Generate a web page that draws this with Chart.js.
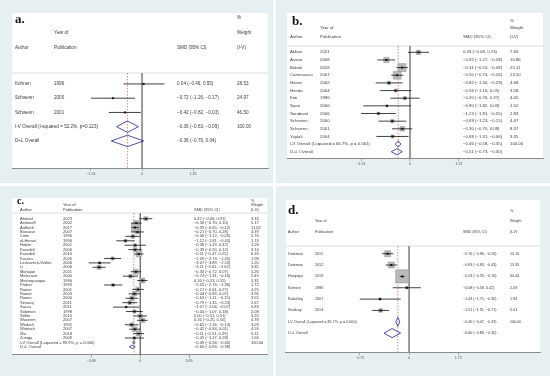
<!DOCTYPE html>
<html>
<head>
<meta charset="utf-8">
<script src="https://cdn.jsdelivr.net/npm/chart.js@4.4.1/dist/chart.umd.min.js"></script>
<style>
  body { margin: 0; background: #fff; width: 550px; height: 376px; position: relative; overflow: hidden; }
  .panel { position: absolute; background: #e6f0f0; }
  .panel canvas { position: absolute; left: 0; top: 0; }
</style>
</head>
<body>
<div class="panel" style="left:0;top:0;width:273px;height:183px"><canvas id="chartA" width="273" height="183"></canvas></div>
<div class="panel" style="left:276px;top:0;width:274px;height:183px"><canvas id="chartB" width="274" height="183"></canvas></div>
<div class="panel" style="left:0;top:186px;width:273px;height:190px"><canvas id="chartC" width="273" height="190"></canvas></div>
<div class="panel" style="left:276px;top:186px;width:274px;height:190px"><canvas id="chartD" width="274" height="190"></canvas></div>
<script>
// ---- a. ----
const aAuthors = ["Kohnen", "Schwenn", "Schwenn"];
const aYears = ["1996", "2000", "2001"];
const aSmd = [0.04, -0.72, -0.42];
const aLow = [-0.46, -1.26, -0.82];
const aHigh = [0.55, -0.17, -0.03];
const aWeight = [28.53, 24.97, 46.50];
const aOverallLabels = ["I-V Overall (I-squared = 52.2%, p=0.123)", "D+L Overall"];
const aOverallSmd = [-0.36, -0.36];
const aOverallLow = [-0.63, -0.76];
const aOverallHigh = [-0.09, 0.04];
const aTicks = [-1.26, 0, 1.26];

// ---- b. ----
const bAuthors = ["Akbari", "Asano", "Babak", "Camesasca", "Holzer", "Honda", "Kim", "Saari", "Sandoval", "Schwenn", "Schwenn", "Yaylali"];
const bYears = ["2021", "2008", "2018", "2007", "2002", "2004", "1996", "2006", "2006", "2000", "2001", "2004"];
const bSmd = [0.33, -0.92, -0.31, -0.50, -0.82, -0.56, -0.20, -0.90, -1.23, -0.69, -0.30, -0.68];
const bLow = [-0.08, -1.27, -0.53, -0.73, -1.34, -1.16, -0.76, -1.82, -1.91, -1.23, -0.70, -1.31];
const bHigh = [0.74, -0.58, -0.08, -0.26, -0.29, 0.05, 0.37, 0.03, -0.55, -0.15, 0.09, -0.06];
const bWeight = [7.69, 10.86, 25.11, 23.50, 4.68, 3.58, 4.05, 1.52, 2.83, 4.47, 8.37, 3.35];
const bOverallLabels = ["I-V Overall (I-squared = 66.7%, p = 0.001)", "D+L Overall"];
const bOverallSmd = [-0.46, -0.51];
const bOverallLow = [-0.58, -0.73];
const bOverallHigh = [-0.35, -0.30];
const bTicks = [-1.91, 0, 1.91];

// ---- c. ----
const cAuthors = ["Ahmad", "Arshinoff", "Auffarth", "Borazan", "Cetin", "el-Harazi", "Holzer", "Karadeli", "Karadeli", "Kocera",
  "Levkovitch-Verbin", "Li", "Mahajan", "Malecaze", "Mastropasqua", "Probst", "Rainer", "Rainer", "Rainer", "Simaroj",
  "Sacca", "Solomon", "Stifter", "Waseem", "Wedrich", "Wirtitsch", "Wu", "Zuniga"];
const cYears = ["2023", "2002", "2017", "2007", "1996", "1996", "2001", "2006", "2010", "2020",
  "2006", "2006", "2021", "2000", "1996", "1993", "2001", "2003", "2000", "2011",
  "2011", "1998", "2010", "2007", "1992", "2007", "2018", "2009"];
const cSmd = [0.42, -0.30, -0.39, -0.21, -0.56, -1.12, -0.38, -0.39, -0.11, -2.09,
  -3.07, -3.11, -0.33, -0.74, 0.16, -2.05, -0.17, -0.44, -0.63, -0.79,
  -1.07, -0.44, 0.00, 0.16, -0.65, -0.42, -0.11, -0.45];
const cLow = [-0.06, -0.70, -0.65, -0.70, -1.12, -1.81, -1.19, -0.90, -0.47, -2.73,
  -3.89, -3.61, -0.72, -1.31, -0.23, -2.74, -0.61, -0.89, -1.11, -1.35,
  -2.06, -1.07, -0.51, -0.25, -1.16, -0.84, -0.51, -1.17];
const cHigh = [0.91, 0.10, -0.12, 0.28, -0.03, -0.43, 0.42, 0.12, 0.25, -1.45,
  -2.24, -2.62, 0.07, -0.16, 0.55, -1.36, 0.27, 0.02, -0.15, -0.23,
  -0.07, 0.18, 0.51, 0.56, -0.14, 0.01, 0.29, 0.28];
const cWeight = [3.34, 5.17, 11.62, 3.39, 2.76, 1.74, 1.26, 3.14, 6.39, 1.98,
  1.20, 3.35, 5.26, 2.49, 5.31, 1.72, 4.25, 3.96, 3.55, 2.67,
  0.83, 2.08, 3.20, 4.78, 3.03, 4.59, 5.11, 1.56];
const cOverallLabels = ["I-V Overall (I-squared = 89.9%, p = 0.000)", "D+L Overall"];
const cOverallSmd = [-0.49, -0.60];
const cOverallLow = [-0.58, -0.83];
const cOverallHigh = [-0.40, -0.38];
const cTicks = [-3.69, 0, 3.69];

// ---- d. ----
const dAuthors = ["Dateman", "Dateman", "Haripriya", "Kohnen", "Rakofsky", "Studeny"];
const dYears = ["2011", "2012", "2019", "1996", "2007", "2014"];
const dSmd = [-0.76, -0.63, -0.24, -0.08, -1.03, -1.01];
const dLow = [-0.96, -0.83, -0.33, -0.58, -1.75, -1.31];
const dHigh = [-0.56, -0.43, -0.16, 0.42, -0.30, -0.71];
const dWeight = [13.16, 13.35, 64.44, 2.09, 1.94, 5.03];
const dOverallLabels = ["I-V Overall (I-squared = 85.7%, p = 0.000)", "D+L Overall"];
const dOverallSmd = [-0.40, -0.60];
const dOverallLow = [-0.47, -0.89];
const dOverallHigh = [-0.33, -0.30];
const dTicks = [-1.75, 0, 1.75];

const SANS = '"Liberation Sans", Arial, sans-serif';

function fmt(v) {
  return (v < 0 ? "\u2212" : "") + Math.abs(v).toFixed(2);
}
function ciText(e, l, h) {
  return fmt(e) + " (" + fmt(l) + ", " + fmt(h) + ")";
}

// draws the white plot region, reference lines and the text columns
const forestText = {
  id: "forestText",
  beforeDraw(chart, args, o) {
    const { ctx, chartArea: a } = chart;
    ctx.save();
    ctx.fillStyle = "#fff";
    ctx.fillRect(a.left, a.top, a.right - a.left, a.bottom - a.top);
    ctx.restore();
  },
  beforeDatasetsDraw(chart, args, o) {
    const { ctx, chartArea: a, scales } = chart;
    ctx.save();
    ctx.strokeStyle = "#d6d6d6";
    ctx.lineWidth = 0.8;
    ctx.beginPath();
    ctx.moveTo(a.left, o.sep);
    ctx.lineTo(a.right, o.sep);
    ctx.stroke();
    const x0 = scales.x.getPixelForValue(0);
    ctx.strokeStyle = "#5a5a5a";
    ctx.lineWidth = 1.2;
    ctx.beginPath();
    ctx.moveTo(x0, o.sep);
    ctx.lineTo(x0, a.bottom);
    ctx.stroke();
    const xr = scales.x.getPixelForValue(o.ref);
    ctx.strokeStyle = "#d9534f";
    ctx.lineWidth = 0.7;
    ctx.setLineDash([1.5, 1.5]);
    ctx.beginPath();
    ctx.moveTo(xr, o.sep);
    ctx.lineTo(xr, a.bottom);
    ctx.stroke();
    ctx.restore();
  },
  afterDraw(chart, args, o) {
    const { ctx, scales } = chart;
    const ys = scales.y;
    const c = o.cols;
    ctx.save();
    ctx.fillStyle = "#3a3a3a";
    ctx.textBaseline = "middle";
    ctx.font = o.font + "px " + SANS;
    o.authors.forEach((name, i) => {
      const y = ys.getPixelForValue(i);
      ctx.fillText(name, c[0], y);
      ctx.fillText(o.years[i], c[1], y);
      ctx.fillText(ciText(o.smd[i], o.low[i], o.high[i]), c[2], y);
      ctx.fillText(o.weight[i].toFixed(2), c[3], y);
    });
    const n = o.authors.length;
    o.ovLabels.forEach((lab, j) => {
      const y = ys.getPixelForValue(n + j);
      ctx.fillText(lab, c[0], y);
      ctx.fillText(ciText(o.ovSmd[j], o.ovLow[j], o.ovHigh[j]), c[2], y);
      if (j === 0) ctx.fillText("100.00", c[3], y);
    });
    const h = o.head;
    ctx.fillText("%", c[3], h[0]);
    ctx.fillText("Year of", c[1], h[1]);
    ctx.fillText("Weight", c[3], h[1]);
    ctx.fillText("Author", c[0], h[2]);
    ctx.fillText("Publication", c[1], h[2]);
    ctx.fillText("SMD (95% CI)", c[2], h[2]);
    ctx.fillText("(I-V)", c[3], h[2]);
    ctx.fillStyle = "#111";
    ctx.font = "bold " + o.labelSize + 'px "Liberation Serif", "Times New Roman", serif';
    ctx.fillText(o.label, o.labelAt[0], o.labelAt[1]);
    ctx.restore();
  }
};

function makeForest(id, d, lay) {
  const n = d.authors.length;
  const pts = d.smd.map((v, i) => ({ x: v, y: i }));
  const whisk = [];
  d.smd.forEach((v, i) => {
    whisk.push({ x: d.low[i], y: i }, { x: d.high[i], y: i }, { x: d.high[i], y: null });
  });
  const datasets = [
    {
      type: "scatter", data: pts, pointStyle: "rect",
      pointRadius: d.weight.map((w) => (lay.box * Math.sqrt(w)) / Math.SQRT2),
      backgroundColor: "#bababa", borderColor: "#8f8f8f", borderWidth: 0.5, order: 3
    },
    {
      type: "line", data: whisk, borderColor: "#111", borderWidth: 0.8,
      pointRadius: 0, spanGaps: false, order: 2
    },
    {
      type: "scatter", data: pts, pointStyle: "rect", pointRadius: 1.4,
      backgroundColor: "#111", borderWidth: 0, order: 1
    }
  ];
  d.ovSmd.forEach((v, j) => {
    const y = n + j;
    const hh = 0.4;
    datasets.push({
      type: "line",
      data: [
        { x: d.ovLow[j], y: y }, { x: v, y: y - hh }, { x: d.ovHigh[j], y: y },
        { x: v, y: y + hh }, { x: d.ovLow[j], y: y }
      ],
      borderColor: "#3b3b9c", borderWidth: 0.9, pointRadius: 0, fill: false, tension: 0, order: 1
    });
  });

  const ctx = document.getElementById(id).getContext("2d");
  return new Chart(ctx, {
    type: "scatter",
    data: { datasets: datasets },
    options: {
      responsive: false,
      animation: false,
      events: [],
      layout: { padding: lay.pad },
      scales: {
        x: {
          type: "linear",
          min: lay.xMin,
          max: lay.xMax,
          afterBuildTicks: (s) => {
            s.ticks = d.ticks.map((v) => ({ value: v }));
          },
          afterFit: (s) => {
            s.height = 12;
          },
          grid: { drawOnChartArea: false, drawTicks: true, tickLength: 3, color: "#777", lineWidth: 0.6 },
          border: { display: true, color: "#8a8a8a", width: 1 },
          ticks: {
            autoSkip: false,
            maxRotation: 0,
            padding: 1,
            color: "#555",
            font: { size: lay.tickSize, family: SANS },
            callback: (v) => (v === 0 ? "0" : fmt(v))
          }
        },
        y: {
          type: "linear",
          display: false,
          reverse: true,
          min: lay.yMin,
          max: lay.yMax
        }
      },
      plugins: {
        legend: { display: false },
        tooltip: { enabled: false },
        forestText: {
          authors: d.authors, years: d.years, smd: d.smd, low: d.low, high: d.high, weight: d.weight,
          ovLabels: d.ovLabels, ovSmd: d.ovSmd, ovLow: d.ovLow, ovHigh: d.ovHigh,
          ref: d.ovSmd[0],
          cols: lay.cols, font: lay.font, head: lay.head, sep: lay.sep,
          label: lay.label, labelSize: lay.labelSize, labelAt: lay.labelAt
        }
      }
    },
    plugins: [forestText]
  });
}

makeForest("chartA",
  { authors: aAuthors, years: aYears, smd: aSmd, low: aLow, high: aHigh, weight: aWeight,
    ovLabels: aOverallLabels, ovSmd: aOverallSmd, ovLow: aOverallLow, ovHigh: aOverallHigh, ticks: aTicks },
  { pad: { left: 12, right: 5, top: 13, bottom: 3 }, xMin: -3.21, xMax: 3.11, yMin: -4.98, yMax: 5.9,
    box: 0, cols: [15, 54, 177, 237], font: 4.6, tickSize: 3.6,
    head: [18, 33, 48], sep: 73, label: "a.", labelSize: 13, labelAt: [15, 20] });

makeForest("chartB",
  { authors: bAuthors, years: bYears, smd: bSmd, low: bLow, high: bHigh, weight: bWeight,
    ovLabels: bOverallLabels, ovSmd: bOverallSmd, ovLow: bOverallLow, ovHigh: bOverallHigh, ticks: bTicks },
  { pad: { left: 11, right: 7, top: 13, bottom: 13 }, xMin: -4.795, xMax: 5.185, yMin: -5.137, yMax: 13.817,
    box: 1.6, cols: [14, 44, 187, 234], font: 4.3, tickSize: 3.6,
    head: [21, 28, 37], sep: 46, label: "b.", labelSize: 13, labelAt: [16, 22] });

makeForest("chartC",
  { authors: cAuthors, years: cYears, smd: cSmd, low: cLow, high: cHigh, weight: cWeight,
    ovLabels: cOverallLabels, ovSmd: cOverallSmd, ovLow: cOverallLow, ovHigh: cOverallHigh, ticks: cTicks },
  { pad: { left: 12, right: 5, top: 12, bottom: 9.3 }, xMin: -9.69, xMax: 9.59, yMin: -4.683, yMax: 30.77,
    box: 2.2, cols: [20, 63, 194, 251], font: 4, tickSize: 3.6,
    head: [15, 19, 24], sep: 27, label: "c.", labelSize: 10, labelAt: [17, 15] });

makeForest("chartD",
  { authors: dAuthors, years: dYears, smd: dSmd, low: dLow, high: dHigh, weight: dWeight,
    ovLabels: dOverallLabels, ovSmd: dOverallSmd, ovLow: dOverallLow, ovHigh: dOverallHigh, ticks: dTicks },
  { pad: { left: 9, right: 7, top: 14, bottom: 12 }, xMin: -4.375, xMax: 4.655, yMin: -4.731, yMax: 8.661,
    box: 1.65, cols: [12, 39, 187, 234], font: 3.7, tickSize: 3.6,
    head: [25, 35, 46], sep: 60, label: "d.", labelSize: 13, labelAt: [12, 25] });
</script>
</body>
</html>
